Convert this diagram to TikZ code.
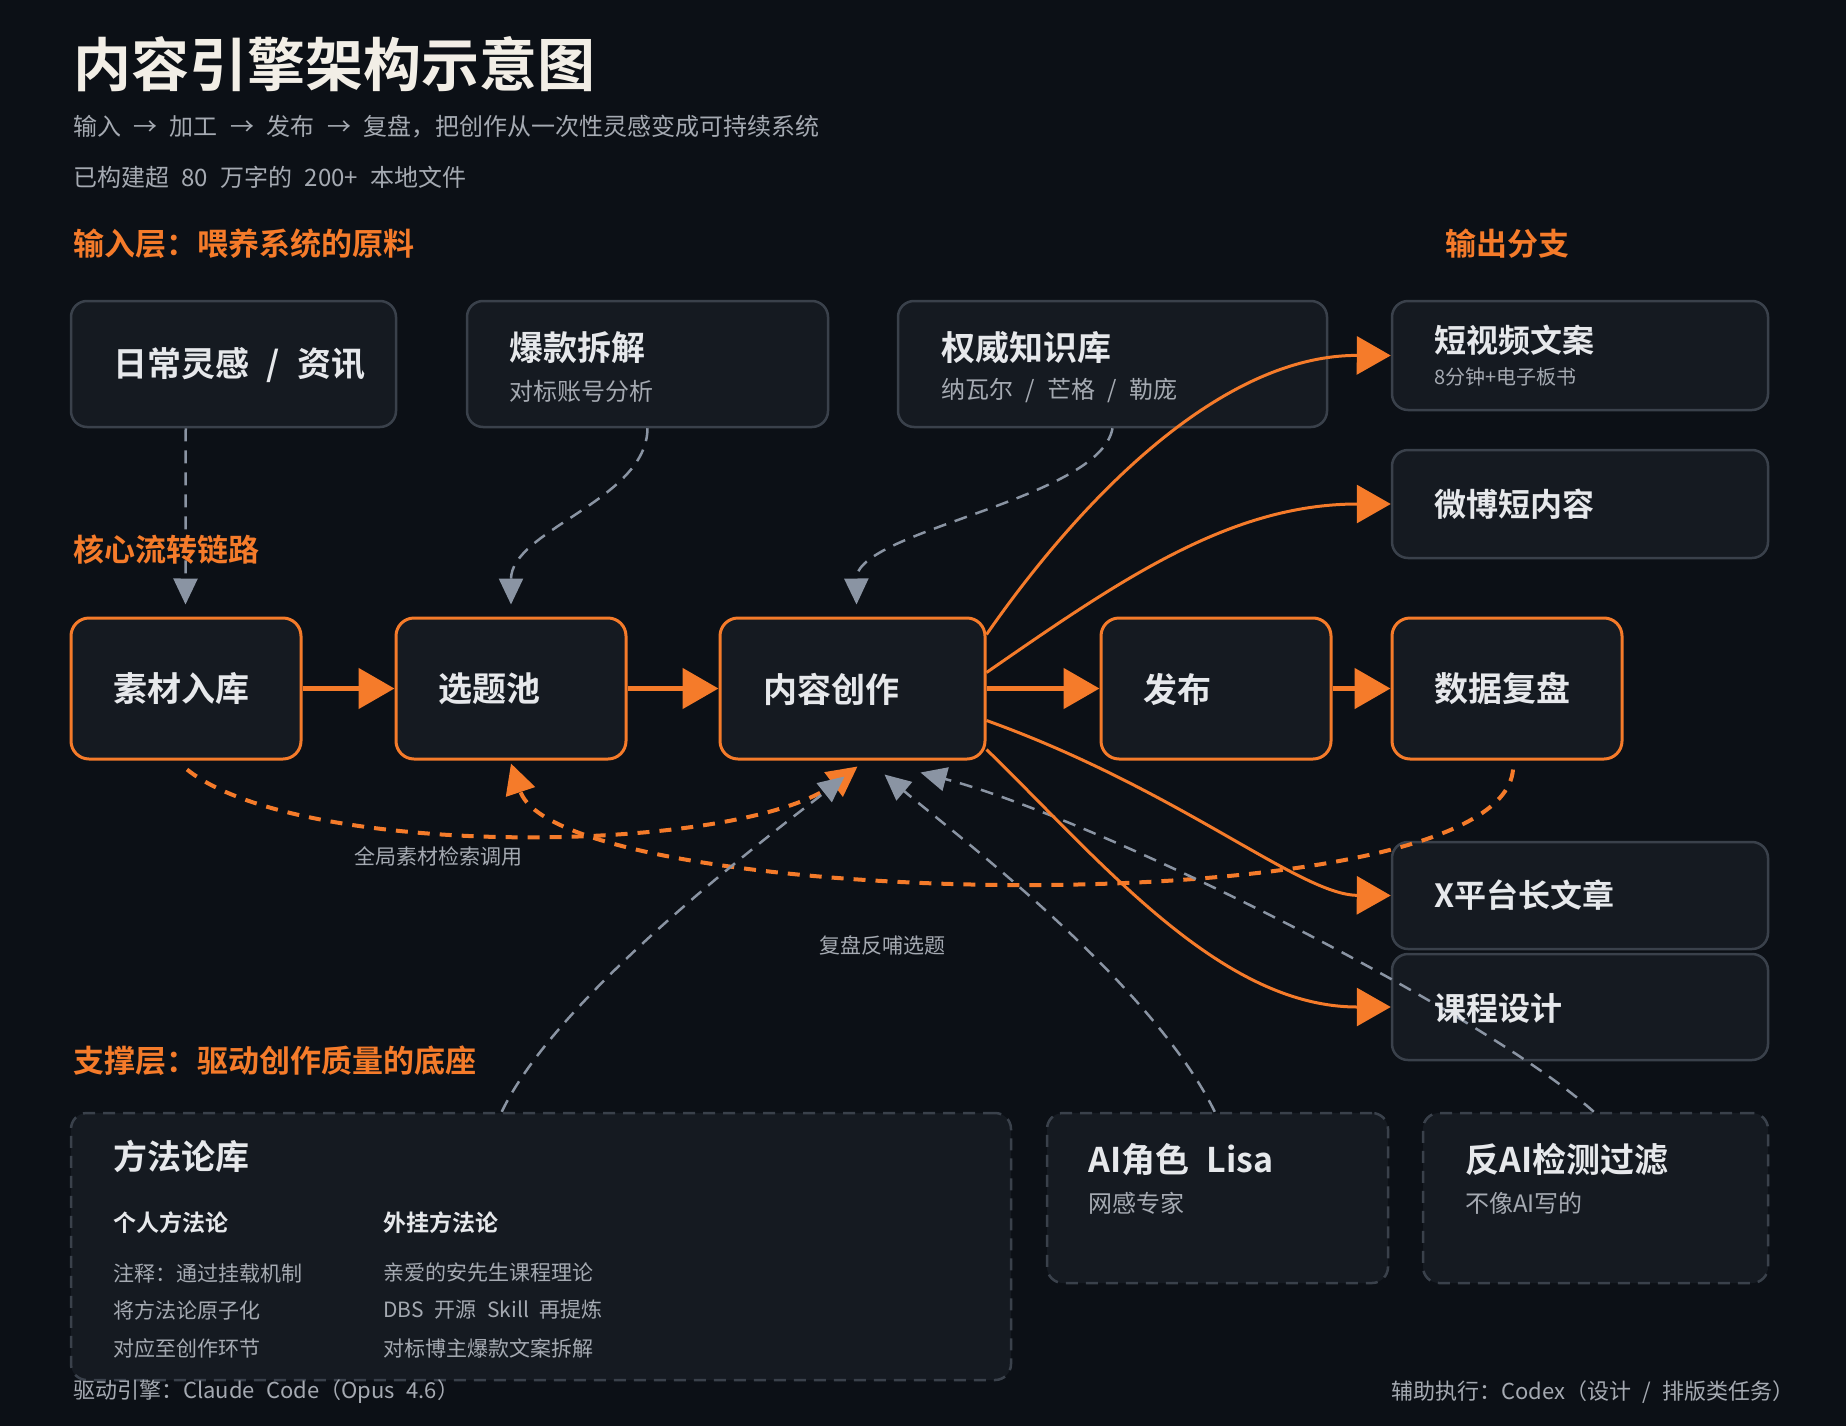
\documentclass[tikz,border=0pt]{standalone}
\usepackage{fontspec}
\setmainfont{Noto Sans CJK SC}[BoldFont={Noto Sans CJK SC Bold},WordSpace=2.3]
\usetikzlibrary{arrows.meta,calc}
\definecolor{bgc}{HTML}{0C1016}
\definecolor{boxfill}{HTML}{151A21}
\definecolor{boxline}{HTML}{3A414B}
\definecolor{orng}{HTML}{F57B2A}
\definecolor{agray}{HTML}{8A94A3}
\definecolor{wtext}{HTML}{E6E8EB}
\definecolor{stext}{HTML}{A5AAB2}
\definecolor{ttext}{HTML}{F2EEE6}
\begin{document}
\begin{tikzpicture}[x=1pt,y=-1pt,
  box/.style={draw=boxline,line width=2.5pt,fill=boxfill,rounded corners=16pt,inner sep=0pt},
  corebox/.style={draw=orng,line width=3pt,fill=boxfill,rounded corners=18pt,inner sep=0pt},
  supbox/.style={box,dash pattern=on 12pt off 8pt},
  graylink/.style={draw=agray,line width=2.5pt,dash pattern=on 13pt off 9pt,-{Triangle[length=26pt,width=24pt]}},
  corelink/.style={draw=orng,line width=5pt,-{Triangle[length=36pt,width=40pt]}},
  outlink/.style={draw=orng,line width=3pt,-{Triangle[length=34pt,width=38pt]}},
  looplink/.style={draw=orng,line width=4pt,dash pattern=on 12pt off 10pt,-{Triangle[length=30pt,width=30pt]}},
  txt/.style={anchor=west,inner sep=0pt},
  ttl/.style={txt,text=ttext,font=\bfseries\fontsize{58}{64}\selectfont},
  sub/.style={txt,text=stext,font=\fontsize{24}{28}\selectfont},
  hdr/.style={txt,text=orng,font=\bfseries\fontsize{31}{36}\selectfont},
  bt/.style={txt,text=wtext,font=\bfseries\fontsize{34}{40}\selectfont},
  bto/.style={txt,text=wtext,font=\bfseries\fontsize{32}{38}\selectfont},
  bs/.style={txt,text=stext,font=\fontsize{24}{28}\selectfont},
  small/.style={txt,text=stext,font=\fontsize{21}{25}\selectfont},
  colh/.style={txt,text=wtext,font=\bfseries\fontsize{23}{27}\selectfont},
  lbl/.style={inner sep=0pt,text=stext,font=\fontsize{21}{25}\selectfont}
]
\fill[bgc] (0,0) rectangle (1846,1426);
\useasboundingbox (0,0) rectangle (1846,1426);

% input boxes
\node[box,minimum width=325pt,minimum height=126pt] (daily) at (233.5,364) {};
\node[box,minimum width=361pt,minimum height=126pt] (baokuan) at (647.5,364) {};
\node[box,minimum width=429pt,minimum height=126pt] (quanwei) at (1112.5,364) {};
% output boxes
\node[box,minimum width=376pt,minimum height=109pt] (duan) at (1580,355.5) {};
\node[box,minimum width=376pt,minimum height=108pt] (weibo) at (1580,504) {};
\node[box,minimum width=376pt,minimum height=107pt] (xplat) at (1580,895.5) {};
\node[box,minimum width=376pt,minimum height=106pt] (kecheng) at (1580,1007) {};
% core chain
\node[corebox,minimum width=230pt,minimum height=141pt] (sucai) at (186,688.5) {};
\node[corebox,minimum width=230pt,minimum height=141pt] (xuanti) at (511,688.5) {};
\node[corebox,minimum width=265pt,minimum height=141pt] (neirong) at (852.5,688.5) {};
\node[corebox,minimum width=230pt,minimum height=141pt] (fabu) at (1216,688.5) {};
\node[corebox,minimum width=230pt,minimum height=141pt] (shuju) at (1507,688.5) {};
% support boxes
\node[supbox,minimum width=940pt,minimum height=267pt] (fangfa) at (541,1246.5) {};
\node[supbox,minimum width=341pt,minimum height=170pt] (lisa) at (1217.5,1198) {};
\node[supbox,minimum width=345pt,minimum height=170pt] (fanai) at (1595.5,1198) {};

% gray input links
\draw[graylink] ($(daily.south west)+(116,0)$) -- ($(sucai.north west)+(116,-12)$);
\draw[graylink] (baokuan.south) .. controls (647,500) and (511,530) .. ($(xuanti.north)+(0,-12)$);
\draw[graylink] (quanwei.south) .. controls (1100,500) and (856,530) .. ($(neirong.north)+(4,-12)$);

% loops
\draw[looplink] ($(sucai.south)+(1,9)$) .. controls (300,860) and (740,855) .. ($(neirong.south)+(5,6)$);
\draw[looplink] ($(shuju.south)+(6,9)$) .. controls (1500,930) and (560,910) .. ($(xuanti.south)+(0,3)$);

% support links
\draw[graylink] ($(fangfa.north west)+(432,0)$) .. controls (560,990) and (790,820) .. ($(neirong.south)+(-8,16)$);
\draw[graylink] ($(lisa.north west)+(169,0)$) .. controls (1150,980) and (950,830) .. ($(neirong.south)+(32,14)$);
\draw[graylink] ($(fanai.north west)+(172,0)$) .. controls (1480,1010) and (1100,820) .. ($(neirong.south)+(68,12)$);

% core links
\draw[corelink] (sucai.east) -- (xuanti.west);
\draw[corelink] (xuanti.east) -- (neirong.west);
\draw[corelink] (neirong.east) -- (fabu.west);
\draw[corelink] (fabu.east) -- (shuju.west);

% output links
\draw[outlink] ($(neirong.east)+(0,-54)$) .. controls (1080,500) and (1220,355) .. (duan.west);
\draw[outlink] ($(neirong.east)+(0,-16)$) .. controls (1120,580) and (1230,504) .. (weibo.west);
\draw[outlink] ($(neirong.east)+(0,32)$) .. controls (1180,790) and (1300,895) .. (xplat.west);
\draw[outlink] ($(neirong.east)+(0,61)$) .. controls (1100,860) and (1220,1007) .. (kecheng.west);

% texts
\node[ttl] (t0) at (73,64) {内容引擎架构示意图};
\node[sub] (t1) at (73,127) {输入 → 加工 → 发布 → 复盘，把创作从一次性灵感变成可持续系统};
\node[sub] (t2) at (73,177) {已构建超 80 万字的 200+ 本地文件};
\node[hdr] (h1) at (73,244) {输入层：喂养系统的原料};
\node[hdr] (h2) at (1445,244) {输出分支};
\node[hdr] (h3) at (73,550) {核心流转链路};
\node[hdr] (h4) at (73,1061) {支撑层：驱动创作质量的底座};

\node[bt] (l1) at (113,365) {日常灵感 / 资讯};
\node[bt] (l2) at (509,348) {爆款拆解};
\node[bs] (l2s) at (509,391) {对标账号分析};
\node[bt] (l3) at (941,348) {权威知识库};
\node[bs] (l3s) at (941,391) {纳瓦尔 / 芒格 / 勒庞};

\node[bto] (o1) at (1434,340) {短视频文案};
\node[txt,text=stext,font=\fontsize{20}{24}\selectfont] (o1s) at (1434,377) {8分钟+电子板书};
\node[bto] (o2) at (1434,504) {微博短内容};
\node[bto] (o3) at (1434,895) {X平台长文章};
\node[bto] (o4) at (1434,1008) {课程设计};

\node[bt] (c1) at (113,689) {素材入库};
\node[bt] (c2) at (438,689) {选题池};
\node[bt] (c3) at (763,689) {内容创作};
\node[bt] (c4) at (1143,689) {发布};
\node[bt] (c5) at (1434,689) {数据复盘};

\node[bt] (s1) at (113,1156) {方法论库};
\node[colh] (s1a) at (113,1223) {个人方法论};
\node[colh] (s1b) at (383,1223) {外挂方法论};
\node[small] (s1a1) at (113,1273) {注释：通过挂载机制};
\node[small] (s1a2) at (113,1310) {将方法论原子化};
\node[small] (s1a3) at (113,1348) {对应至创作环节};
\node[small] (s1b1) at (383,1273) {亲爱的安先生课程理论};
\node[small] (s1b2) at (383,1310) {DBS 开源 Skill 再提炼};
\node[small] (s1b3) at (383,1348) {对标博主爆款文案拆解};
\node[bt] (s2) at (1088,1160) {AI角色 Lisa};
\node[bs] (s2s) at (1088,1203) {网感专家};
\node[bt] (s3) at (1465,1160) {反AI检测过滤};
\node[bs] (s3s) at (1465,1203) {不像AI写的};

\node[lbl] (lb1) at (438,856) {全局素材检索调用};
\node[lbl] (lb2) at (882,945) {复盘反哺选题};

\node[txt,text=stext,font=\fontsize{22}{26}\selectfont] (f1) at (73,1392) {驱动引擎：Claude Code（Opus 4.6）};
\node[txt,anchor=east,text=stext,font=\fontsize{22}{26}\selectfont] (f2) at (1795,1392) {辅助执行：Codex（设计 / 排版类任务）};
\end{tikzpicture}
\end{document}
